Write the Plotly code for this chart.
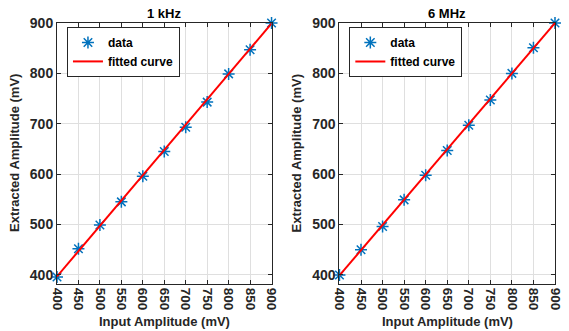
import plotly.graph_objects as go
from plotly.subplots import make_subplots

input_mv = [400, 450, 500, 550, 600, 650, 700, 750, 800, 850, 900]
extracted_1khz = [396, 452, 499, 545, 596, 645, 693, 743, 799, 847, 900]
extracted_6mhz = [400, 450, 496, 549, 598, 647, 697, 747, 800, 851, 900]
fit_x = [400, 900]
fit_1khz = [397, 899]
fit_6mhz = [399, 900]
titles = ["1 kHz", "6 MHz"]
x_title = "Input Amplitude (mV)"
y_title = "Extracted Amplitude (mV)"
tick_vals_x = [400, 450, 500, 550, 600, 650, 700, 750, 800, 850, 900]
tick_vals_y = [400, 500, 600, 700, 800, 900]

BLUE = "#0072BD"
FONT = "Liberation Sans"
TXT = "#262626"

fig = make_subplots(rows=1, cols=2, horizontal_spacing=0.1364)
domains = [[0, 0.4308], [0.5672, 1.0]]
fig.update_xaxes(domain=domains[0], row=1, col=1)
fig.update_xaxes(domain=domains[1], row=1, col=2)

series = [(extracted_1khz, fit_1khz, "legend"), (extracted_6mhz, fit_6mhz, "legend2")]
for i, (ys, fy, lg) in enumerate(series):
    col = i + 1
    fig.add_trace(go.Scatter(
        x=input_mv, y=ys, mode="markers", name="data", legend=lg, cliponaxis=False,
        marker=dict(symbol="asterisk-open", size=10, color=BLUE,
                    line=dict(color=BLUE, width=1.5)),
    ), row=1, col=col)
    fig.add_trace(go.Scatter(
        x=fit_x, y=fy, mode="lines", name="fitted curve", legend=lg,
        line=dict(color="#ff0000", width=2),
    ), row=1, col=col)

axis_common = dict(
    showline=True, linecolor=TXT, linewidth=1, mirror="ticks",
    ticks="inside", ticklen=4, tickcolor=TXT,
    showgrid=True, gridcolor="#dfdfdf", gridwidth=1, zeroline=False,
)
for col in (1, 2):
    fig.update_xaxes(
        range=[400, 900], tickvals=tick_vals_x, tickangle=90,
        tickfont=dict(family=FONT, size=13.5, color=TXT, weight="bold"),
        **axis_common, row=1, col=col)
    fig.update_yaxes(
        range=[382, 900], tickvals=tick_vals_y,
        tickfont=dict(family=FONT, size=14, color=TXT, weight="bold"),
        **axis_common, row=1, col=col)

title_font = dict(family=FONT, size=13, color=TXT, weight="bold")
for i, t in enumerate(titles):
    d = domains[i]
    xc = (d[0] + d[1]) / 2
    fig.add_annotation(text=t, x=xc, y=1.0, xref="paper", yref="paper",
                       yanchor="bottom", xanchor="center", showarrow=False, yshift=0,
                       font=dict(family=FONT, size=13, color="#000000", weight="bold"))
    fig.add_annotation(text=x_title, x=xc, y=0, xref="paper", yref="paper",
                       yanchor="middle", xanchor="center", showarrow=False, yshift=-37,
                       font=title_font)
    fig.add_annotation(text=y_title, x=d[0], y=0.5, xref="paper", yref="paper",
                       yanchor="middle", xanchor="center", showarrow=False, xshift=-42.5,
                       textangle=-90, font=title_font)

leg_common = dict(
    bgcolor="white", bordercolor=TXT, borderwidth=1,
    font=dict(family=FONT, size=12, color="#000000", weight="bold"),
    xanchor="left", yanchor="top", tracegroupgap=0, itemwidth=30,
)
fig.update_layout(
    width=569, height=331,
    margin=dict(l=57, r=6, t=23, b=47),
    paper_bgcolor="white", plot_bgcolor="white",
    legend=dict(x=0.02, y=0.985, **leg_common),
    legend2=dict(x=0.587, y=0.985, **leg_common),
    showlegend=True,
)

fig.write_html(
    "out.html",
    config={"displayModeBar": False},
    post_script="document.body.style.margin='0';document.body.style.overflow='hidden';",
)
